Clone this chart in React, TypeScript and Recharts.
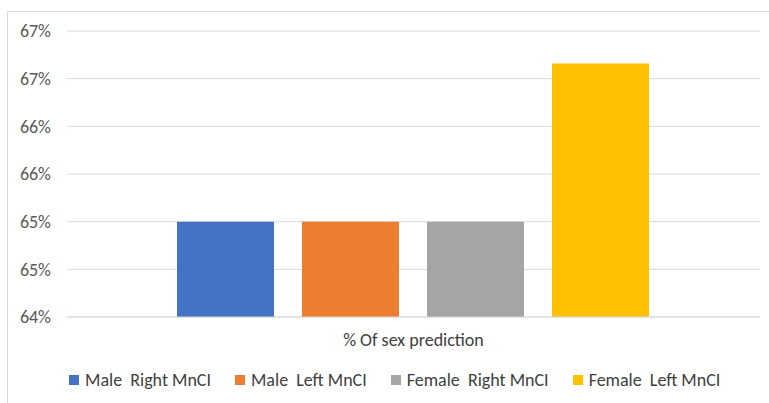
import { BarChart, Bar, XAxis, YAxis, CartesianGrid } from 'recharts';

const category = '% Of sex prediction';
const seriesNames = ['Male  Right MnCI', 'Male  Left MnCI', 'Female  Right MnCI', 'Female  Left MnCI'];
const seriesKeys = ['maleRight', 'maleLeft', 'femaleRight', 'femaleLeft'];
const seriesValues = [65.0, 65.0, 65.0, 66.66];
const seriesColors = ['#4472c4', '#ed7d31', '#a5a5a5', '#ffc000'];
const yTicks = [64, 64.5, 65, 65.5, 66, 66.5, 67];

const row: Record<string, string | number> = { name: category };
seriesKeys.forEach((k, i) => {
  row[k] = seriesValues[i];
});
const data = [row];

const font = "Carlito, Calibri, 'Open Sans', sans-serif";

function LegendBox() {
  return (
    <div
      style={{
        position: 'absolute',
        left: 69,
        top: 368,
        display: 'flex',
        gap: 24,
        fontFamily: font,
        fontSize: 18,
        lineHeight: '24px',
        color: '#404040',
      }}
    >
      {seriesNames.map((n, i) => (
        <div key={n} style={{ display: 'flex', alignItems: 'center', gap: 6, whiteSpace: 'pre' }}>
          <span style={{ width: 10, height: 10, background: seriesColors[i], display: 'inline-block' }} />
          <span>{n}</span>
        </div>
      ))}
    </div>
  );
}

export default function App() {
  return (
    <div style={{ position: 'absolute', left: 0, top: 0, width: 769, height: 403, background: '#fff', overflow: 'hidden' }}>
      <div style={{ position: 'absolute', left: 7, top: 11, width: 780, height: 420, borderLeft: '1px solid #d9d9d9', borderTop: '1px solid #d9d9d9' }} />
      <BarChart
        width={769}
        height={403}
        data={data}
        margin={{ top: 31, right: 9, left: 7, bottom: 46 }}
        barCategoryGap={110}
        barGap={28}
        style={{ position: 'absolute', left: 0, top: 0 }}
      >
        <CartesianGrid vertical={false} stroke="#d9d9d9" />
        <XAxis
          dataKey="name"
          axisLine={{ stroke: '#d9d9d9' }}
          tickLine={false}
          tick={{ fill: '#404040', fontSize: 18, fontFamily: font }}
          tickMargin={10}
          height={40}
        />
        <YAxis
          domain={[64, 67]}
          ticks={yTicks}
          tickFormatter={(v: number) => `${Math.round(v)}%`}
          axisLine={false}
          tickLine={false}
          width={60}
          tickMargin={10}
          tick={{ fill: '#595959', fontSize: 18, fontFamily: font }}
          interval={0}
        />
        {seriesKeys.map((k, i) => (
          <Bar key={k} dataKey={k} name={seriesNames[i]} fill={seriesColors[i]} isAnimationActive={false} />
        ))}
      </BarChart>
      <LegendBox />
    </div>
  );
}
